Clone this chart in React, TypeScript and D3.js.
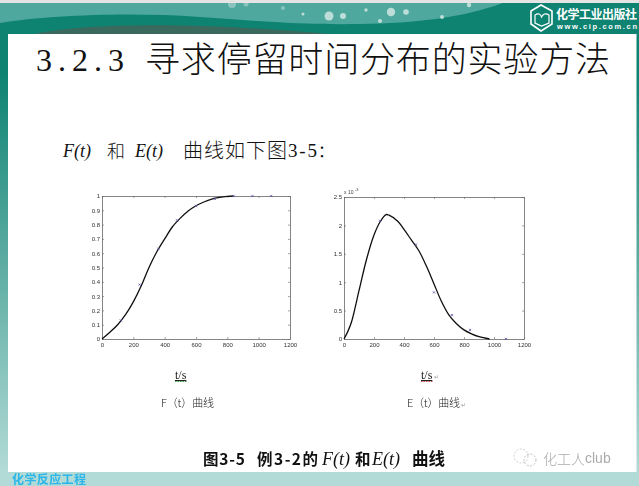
import React, { useEffect, useRef } from 'react';
import * as d3 from 'd3';

// F(t) curve
const fTimes = [0, 50, 100, 150, 200, 250, 300, 350, 400, 450, 500, 550, 600, 650, 700, 750, 800, 840];
const fValues = [0, 0.047, 0.1, 0.17, 0.26, 0.37, 0.5, 0.61, 0.7, 0.785, 0.845, 0.895, 0.932, 0.958, 0.978, 0.99, 0.997, 1];
const fPointTimes = [120, 240, 360, 480, 600, 720, 840, 960, 1080];
const fPointValues = [0.13, 0.38, 0.63, 0.83, 0.93, 0.98, 1, 1, 1];

// E(t) curve, in units of 1e-3
const eTimes = [0, 25, 50, 100, 150, 200, 240, 280, 300, 360, 400, 450, 500, 550, 600, 650, 700, 750, 800, 850, 900, 970];
const eValues = [0, 0.13, 0.3, 0.85, 1.4, 1.83, 2.06, 2.19, 2.18, 2.07, 1.93, 1.74, 1.55, 1.28, 0.97, 0.66, 0.42, 0.27, 0.16, 0.09, 0.04, 0];
const ePointTimes = [240, 480, 600, 720, 840, 1080];
const ePointValues = [2.08, 1.66, 0.82, 0.42, 0.16, 0];

const xTicks = [0, 200, 400, 600, 800, 1000, 1200];
const fTicks = [0, 0.1, 0.2, 0.3, 0.4, 0.5, 0.6, 0.7, 0.8, 0.9, 1];
const eTicks = [0, 0.5, 1, 1.5, 2, 2.5];

const CJK = '"Noto Sans CJK SC", sans-serif';
const SERIF = '"Liberation Serif", serif';
const SANS = '"Liberation Sans", sans-serif';

interface PlotProps {
  left: number;
  right: number;
  top: number;
  bottom: number;
  xs: number[];
  ys: number[];
  pxs: number[];
  pys: number[];
  yMax: number;
  yTicks: number[];
}

const Plot: React.FC<PlotProps> = ({ left, right, top, bottom, xs, ys, pxs, pys, yMax, yTicks }) => {
  const ref = useRef<SVGGElement>(null);

  useEffect(() => {
    if (!ref.current) return;
    const g = d3.select(ref.current);
    g.selectAll('*').remove();

    const x = d3.scaleLinear().domain([0, 1200]).range([left, right]);
    const y = d3.scaleLinear().domain([0, yMax]).range([bottom, top]);
    const fmt = (d: d3.NumberValue) => String(+d);

    const style = (sel: d3.Selection<SVGGElement, unknown, null, undefined>) => {
      sel.select('.domain').attr('stroke', '#666').attr('stroke-width', 0.8);
      sel.selectAll('.tick line').attr('stroke', '#666').attr('stroke-width', 0.6);
      sel.selectAll('.tick text').attr('fill', '#333').style('font-size', '6px').style('font-family', SANS);
    };

    g.append('g').attr('transform', `translate(0,${bottom})`)
      .call(d3.axisBottom(x).tickValues(xTicks).tickSizeInner(-2).tickSizeOuter(0).tickPadding(4).tickFormat(fmt))
      .call(style);
    g.append('g').attr('transform', `translate(0,${top})`)
      .call(d3.axisTop(x).tickValues(xTicks).tickSizeInner(-2).tickSizeOuter(0).tickFormat(() => ''))
      .call(style);
    g.append('g').attr('transform', `translate(${left},0)`)
      .call(d3.axisLeft(y).tickValues(yTicks).tickSizeInner(-2).tickSizeOuter(0).tickPadding(2).tickFormat(fmt))
      .call(style);
    g.append('g').attr('transform', `translate(${right},0)`)
      .call(d3.axisRight(y).tickValues(yTicks).tickSizeInner(-2).tickSizeOuter(0).tickFormat(() => ''))
      .call(style);

    const line = d3.line<number>().x((_, i) => x(xs[i])).y(d => y(d)).curve(d3.curveCatmullRom.alpha(0.5));
    g.append('path').attr('d', line(ys)).attr('fill', 'none').attr('stroke', '#111').attr('stroke-width', 1.3);

    const cross = d3.symbol().type(d3.symbolTimes).size(4);
    g.selectAll('path.pt').data(pys).enter().append('path')
      .attr('class', 'pt')
      .attr('d', cross())
      .attr('transform', (d, i) => `translate(${x(pxs[i])},${y(d)})`)
      .attr('fill', 'none')
      .attr('stroke', '#5a5aa8')
      .attr('stroke-width', 0.8);
  }, [left, right, top, bottom, xs, ys, pxs, pys, yMax, yTicks]);

  return <g ref={ref} filter="url(#soft)" />;
};

const App: React.FC = () => {
  return (
    <svg width={639} height={486} style={{ position: 'absolute', left: 0, top: 0 }}>
      <defs>
        <clipPath id="band"><rect x={0} y={3} width={639} height={31} /></clipPath>
        <linearGradient id="frame" x1="0" y1="0" x2="0" y2="1">
          <stop offset="0.15" stopColor="#0e8372" />
          <stop offset="0.97" stopColor="#b2dad6" />
        </linearGradient>
        <filter id="soft" x="-5%" y="-5%" width="110%" height="110%">
          <feGaussianBlur stdDeviation="0.35" />
        </filter>
      </defs>
      {/* slide frame */}
      <rect x={0} y={0} width={639} height={486} fill="url(#frame)" />
      <rect x={0} y={472} width={639} height={14} fill="#b2dad6" />
      <rect x={0} y={0} width={639} height={3} fill="#e4e4e4" />
      <rect x={0} y={3} width={639} height={31} fill="#0e8372" />
      <g clipPath="url(#band)">
        <path d="M0 23 C50 15 130 12 200 17 C260 21 300 25 360 24 C420 23 470 17 510 0 L0 0 Z" fill="#4fa89e" />
        <path d="M35 34 C90 22 210 23 330 34 Z" fill="#3a6a5e" />
        {[[232, 4, 4], [246, 4, 2.5], [283, 8, 2], [303, 14, 1.5], [329, 16, 4.5], [343, 16, 3], [366, 10, 1.7], [380, 21, 2], [391, 12, 4.2], [406, 12, 2.8], [442, 17, 2], [469, 5, 2.2]].map(([cx, cy, r], i) => (
          <circle key={i} cx={cx} cy={cy} r={r} fill="#cfe6e2" opacity={i < 3 ? 0.45 : 0.85} />
        ))}
      </g>
      <rect x={8} y={34} width={628.5} height={438} fill="#ffffff" />

      {/* publisher logo */}
      <path d="M541 5 L531 11 L531 24 L541 31 L552 24 L552 11 Z" fill="none" stroke="#ffffff" strokeWidth={1.6} />
      <path d="M535 15 Q540 12 541.5 17 Q544 12 549 15 L549 23 L541.5 26 L535 23 Z" fill="none" stroke="#ffffff" strokeWidth={1.2} />
      <text x={556} y={19} fontFamily={CJK} fontSize={12} fontWeight={700} fill="#ffffff" textLength={81}>化学工业出版社</text>
      <text x={557} y={28.5} fontFamily={SANS} fontSize={7.5} fontWeight={700} fill="#ffffff" textLength={80}>www.cip.com.cn</text>

      {/* title */}
      <text x={36} y={71} fontFamily={SERIF} fontSize={32} fill="#111" textLength={88}>3.2.3</text>
      <text x={145} y={72} fontFamily={CJK} fontSize={35} fontWeight={300} fill="#111" textLength={465}>寻求停留时间分布的实验方法</text>

      {/* intro line */}
      <text x={63} y={157} fontFamily={SERIF} fontSize={18} fontStyle="italic" fill="#111">F(t)</text>
      <text x={107} y={158} fontFamily={CJK} fontSize={18} fontWeight={300} fill="#111">和</text>
      <text x={135} y={157} fontFamily={SERIF} fontSize={18} fontStyle="italic" fill="#111">E(t)</text>
      <text x={183} y={158} fontFamily={CJK} fontSize={20} fontWeight={300} fill="#111" textLength={104}>曲线如下图</text>
      <text x={288} y={157} fontFamily={SERIF} fontSize={19} fill="#111" textLength={29}>3-5</text>
      <text x={318} y={157} fontFamily={CJK} fontSize={16} fill="#111">：</text>

      <Plot left={102} right={290} top={196} bottom={339} xs={fTimes} ys={fValues} pxs={fPointTimes} pys={fPointValues} yMax={1} yTicks={fTicks} />
      <Plot left={344} right={524} top={197} bottom={339} xs={eTimes} ys={eValues} pxs={ePointTimes} pys={ePointValues} yMax={2.5} yTicks={eTicks} />
      <text x={344} y={194} fontFamily={SANS} fontSize={5} fill="#444">x 10</text>
      <text x={355} y={191} fontFamily={SANS} fontSize={4} fill="#444">-3</text>

      {/* labels under the plots */}
      <text x={175} y={379} fontFamily={SERIF} fontSize={12} fill="#222" textDecoration="underline">t/s</text>
      <line x1={175} x2={187} y1={381.5} y2={381.5} stroke="#3aa84a" strokeWidth={1} strokeDasharray="1.5 1" />
      <text x={421} y={379} fontFamily={SERIF} fontSize={12} fill="#222" textDecoration="underline">t/s</text>
      <line x1={421} x2={433} y1={381.5} y2={381.5} stroke="#e05050" strokeWidth={1} strokeDasharray="1.5 1" />
      <text x={434} y={379} fontFamily={SANS} fontSize={6} fill="#999">↵</text>
      <text x={161} y={407} fontFamily={CJK} fontSize={11} fontWeight={300} fill="#222" textLength={53}>F（t）曲线</text>
      <text x={407} y={407} fontFamily={CJK} fontSize={11} fontWeight={300} fill="#222" textLength={53}>E（t）曲线</text>
      <text x={461} y={407} fontFamily={SANS} fontSize={6} fill="#999">↵</text>

      {/* caption */}
      <text x={203} y={465} fontFamily={CJK} fontSize={15.5} fontWeight={700} fill="#111" textLength={42}>图3-5</text>
      <text x={257} y={465} fontFamily={CJK} fontSize={15.5} fontWeight={700} fill="#111" textLength={61}>例3-2的</text>
      <text x={322} y={465} fontFamily={SERIF} fontSize={18} fontStyle="italic" fill="#111">F(t)</text>
      <text x={355} y={465} fontFamily={CJK} fontSize={15.5} fontWeight={700} fill="#111">和</text>
      <text x={372} y={465} fontFamily={SERIF} fontSize={18} fontStyle="italic" fill="#111">E(t)</text>
      <text x={412} y={465} fontFamily={CJK} fontSize={16.5} fontWeight={700} fill="#111">曲线</text>

      {/* watermark and footer */}
      <circle cx={521} cy={456} r={7} fill="none" stroke="#c4c4c4" strokeWidth={0.8} strokeDasharray="2 1.5" />
      <circle cx={530} cy={460} r={6} fill="none" stroke="#b0b0b0" strokeWidth={0.8} strokeDasharray="2 1.5" />
      <text x={543} y={464} fontFamily={CJK} fontSize={14} fontWeight={300} fill="#aaaaaa">化工人</text>
      <text x={585} y={463} fontFamily={SANS} fontSize={14} fill="#aaaaaa">club</text>
      <text x={12} y={484} fontFamily={CJK} fontSize={12} fontWeight={700} fill="#2ab6ea" textLength={74}>化学反应工程</text>
    </svg>
  );
};

export default App;
